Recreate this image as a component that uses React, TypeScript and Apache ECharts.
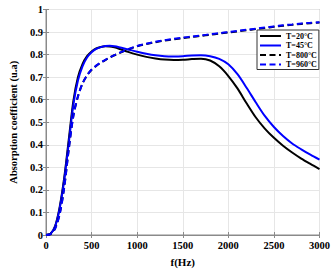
import React, { useEffect, useRef } from "react";
import * as echarts from "echarts";

const freqs = [0, 50, 100, 150, 200, 250, 300, 350, 400, 450, 500, 550, 600, 650, 700, 750, 800, 900, 1000, 1100, 1200, 1300, 1400, 1500, 1600, 1700, 1800, 1900, 2000, 2100, 2200, 2300, 2400, 2500, 2600, 2700, 2800, 2900, 3000];
const t20 = [0, 0.006, 0.04, 0.125, 0.255, 0.425, 0.595, 0.7, 0.758, 0.793, 0.814, 0.827, 0.834, 0.837, 0.836, 0.832, 0.826, 0.812, 0.8, 0.79, 0.783, 0.778, 0.776, 0.777, 0.78, 0.782, 0.774, 0.748, 0.705, 0.65, 0.584, 0.522, 0.472, 0.431, 0.396, 0.366, 0.339, 0.315, 0.292];
const t45 = [0, 0.006, 0.038, 0.118, 0.245, 0.41, 0.578, 0.685, 0.748, 0.787, 0.81, 0.825, 0.833, 0.838, 0.839, 0.837, 0.833, 0.823, 0.813, 0.804, 0.797, 0.793, 0.792, 0.793, 0.796, 0.797, 0.793, 0.781, 0.757, 0.713, 0.653, 0.589, 0.528, 0.479, 0.439, 0.406, 0.38, 0.356, 0.334];
const t800 = [0, 0.004, 0.03, 0.095, 0.215, 0.385, 0.53, 0.615, 0.672, 0.708, 0.733, 0.75, 0.764, 0.776, 0.787, 0.797, 0.806, 0.823, 0.837, 0.847, 0.855, 0.862, 0.868, 0.873, 0.878, 0.883, 0.888, 0.893, 0.898, 0.903, 0.908, 0.913, 0.918, 0.923, 0.928, 0.932, 0.936, 0.939, 0.942];
const t960 = [0, 0.004, 0.029, 0.092, 0.21, 0.38, 0.527, 0.613, 0.671, 0.708, 0.734, 0.751, 0.765, 0.777, 0.788, 0.798, 0.807, 0.824, 0.838, 0.848, 0.857, 0.864, 0.87, 0.875, 0.88, 0.885, 0.89, 0.895, 0.9, 0.905, 0.91, 0.915, 0.92, 0.925, 0.93, 0.934, 0.938, 0.941, 0.944];
const seriesNames = ["T=20°C", "T=45°C", "T=800°C", "T=960°C"];
const xTitle = "f(Hz)";
const yTitle = "Absorption coefficient (u.a)";

const FONT = "'Liberation Serif', 'DejaVu Serif', serif";

export default function App() {
  const ref = useRef<HTMLDivElement>(null);
  useEffect(() => {
    if (!ref.current) return;
    const chart = echarts.init(ref.current, undefined, { renderer: "svg" });
    const pair = (vals: number[]) => freqs.map((f, i) => [f, vals[i]]);
    const mk = (name: string, vals: number[], color: string, dashed: boolean) => ({
      name,
      type: "line",
      data: pair(vals),
      smooth: 0.3,
      showSymbol: false,
      symbol: "none",
      lineStyle: { color, width: 2, type: dashed ? [6, 3.5] : "solid" },
      itemStyle: { color },
      xAxisIndex: 0,
      yAxisIndex: 0,
    });
    const tickStyle = { inside: true, length: 3, lineStyle: { color: "#8a8a8a", width: 1 } };
    chart.setOption({
      animation: false,
      backgroundColor: "#ffffff",
      grid: { left: 37, right: 15.5, top: 9.5, bottom: 31, show: true, borderColor: "#8a8a8a", borderWidth: 1 },
      legend: {
        orient: "vertical",
        left: 257,
        top: 30,
        padding: [2, 2, 1, 2],
        itemGap: 1.5,
        itemWidth: 21,
        itemHeight: 8,
        backgroundColor: "#ffffff",
        borderColor: "#333333",
        borderWidth: 1,
        borderRadius: 0,
        itemStyle: { color: "transparent", borderColor: "transparent", borderWidth: 0, opacity: 0 },
        textStyle: { fontFamily: FONT, fontWeight: "bold", fontSize: 8, color: "#000" },
        data: seriesNames,
      },
      xAxis: [
        {
          type: "value",
          min: 0,
          max: 3000,
          interval: 500,
          name: xTitle,
          nameLocation: "middle",
          nameGap: 21,
          nameTextStyle: { fontFamily: FONT, fontWeight: "bold", fontSize: 11, color: "#000" },
          axisLine: { show: true, lineStyle: { color: "#8a8a8a" } },
          axisTick: tickStyle,
          axisLabel: {
            fontFamily: FONT,
            fontWeight: "bold",
            fontSize: 10.5,
            color: "#000",
            margin: 5,
            formatter: (v: number) => String(v),
          },
          splitLine: { show: true, lineStyle: { color: "#e6e6e6", width: 1 } },
        },
        {
          type: "value",
          position: "top",
          min: 0,
          max: 3000,
          interval: 500,
          axisLine: { show: true, lineStyle: { color: "#8a8a8a" } },
          axisTick: tickStyle,
          axisLabel: { show: false },
          splitLine: { show: false },
        },
      ],
      yAxis: [
        {
          type: "value",
          min: 0,
          max: 1,
          interval: 0.1,
          name: yTitle,
          nameLocation: "middle",
          nameGap: 22,
          nameTextStyle: { fontFamily: FONT, fontWeight: "bold", fontSize: 10.5, color: "#000" },
          axisLine: { show: true, lineStyle: { color: "#8a8a8a" } },
          axisTick: tickStyle,
          axisLabel: { fontFamily: FONT, fontWeight: "bold", fontSize: 10.5, color: "#000", margin: 3 },
          splitLine: { show: true, lineStyle: { color: "#e6e6e6", width: 1 } },
        },
        {
          type: "value",
          position: "right",
          min: 0,
          max: 1,
          interval: 0.1,
          axisLine: { show: true, lineStyle: { color: "#8a8a8a" } },
          axisTick: tickStyle,
          axisLabel: { show: false },
          splitLine: { show: false },
        },
      ],
      series: [
        mk(seriesNames[0], t20, "#000000", false),
        mk(seriesNames[1], t45, "#0000ff", false),
        mk(seriesNames[2], t800, "#000000", true),
        mk(seriesNames[3], t960, "#0000ff", true),
      ],
    });
    return () => chart.dispose();
  }, []);
  return <div ref={ref} style={{ position: "fixed", left: 0, top: 0, width: 335, height: 272 }} />;
}
